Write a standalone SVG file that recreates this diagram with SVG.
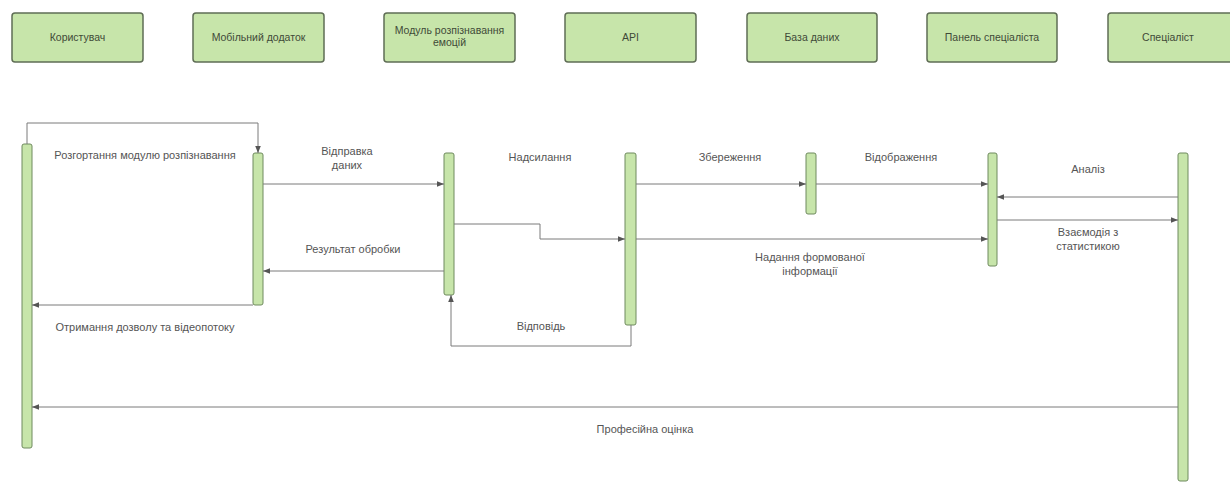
<svg xmlns="http://www.w3.org/2000/svg" width="1230" height="491" viewBox="0 0 1230 491">
<style>
.box{fill:#c7e5aa;stroke:#5f6d55;stroke-width:1.5}
.bar{fill:#c7e5aa;stroke:#6f8a5e;stroke-width:1}
.bt{font-family:"Liberation Sans",Arial,sans-serif;font-size:10.5px;fill:#3f4a38;text-anchor:middle}
.lt{font-family:"Liberation Sans",Arial,sans-serif;font-size:11px;fill:#555;text-anchor:middle}
.ln{fill:none;stroke:#7a7a7a;stroke-width:1}
</style>
<defs>
<marker id="ah" viewBox="0 0 10 10" refX="10" refY="5" markerWidth="7" markerHeight="7" orient="auto" markerUnits="userSpaceOnUse">
<path d="M0,1 L10,5 L0,9 Z" fill="#555"/>
</marker>
</defs>
<rect width="1230" height="491" fill="#ffffff"/>
<g id="user"><rect class="box" x="12" y="13" width="131" height="49" rx="3"/><text class="bt" x="77.5" y="41">Користувач</text></g>
<g id="mobile"><rect class="box" x="193" y="13" width="131" height="49" rx="3"/><text class="bt" x="258.5" y="41">Мобільний додаток</text></g>
<g id="module"><rect class="box" x="384" y="13" width="131" height="49" rx="3"/><text class="bt" x="449.5" y="34">Модуль розпізнавання</text><text class="bt" x="449.5" y="46">емоцій</text></g>
<g id="api"><rect class="box" x="565" y="13" width="131" height="49" rx="3"/><text class="bt" x="630.5" y="41">API</text></g>
<g id="db"><rect class="box" x="747" y="13" width="130" height="49" rx="3"/><text class="bt" x="812" y="41">База даних</text></g>
<g id="panel"><rect class="box" x="927" y="13" width="130" height="49" rx="3"/><text class="bt" x="992" y="41">Панель спеціаліста</text></g>
<g id="specialist"><rect class="box" x="1108" y="13" width="130" height="49" rx="3"/><text class="bt" x="1168" y="41">Спеціаліст</text></g>

<g id="bar-user"><rect class="bar" x="22" y="144" width="10" height="304" rx="2"/></g>
<g id="bar-mobile"><rect class="bar" x="253" y="153" width="10" height="152" rx="2"/></g>
<g id="bar-module"><rect class="bar" x="444" y="153" width="10" height="142" rx="2"/></g>
<g id="bar-api"><rect class="bar" x="625" y="153" width="11" height="172" rx="2"/></g>
<g id="bar-db"><rect class="bar" x="806" y="153" width="10" height="61" rx="2"/></g>
<g id="bar-panel"><rect class="bar" x="988" y="153" width="9" height="113" rx="2"/></g>
<g id="bar-specialist"><rect class="bar" x="1178" y="153" width="10" height="328" rx="2"/></g>

<g id="connectors">
<path class="ln" d="M27,144 V123 H258 V153" marker-end="url(#ah)"/>
<path class="ln" d="M263,184 H444" marker-end="url(#ah)"/>
<path class="ln" d="M444,271 H263" marker-end="url(#ah)"/>
<path class="ln" d="M253,305 H32" marker-end="url(#ah)"/>
<path class="ln" d="M454,224 H540 V239 H625" marker-end="url(#ah)"/>
<path class="ln" d="M631,325 V346 H451 V295" marker-end="url(#ah)"/>
<path class="ln" d="M636,184 H806" marker-end="url(#ah)"/>
<path class="ln" d="M816,184 H988" marker-end="url(#ah)"/>
<path class="ln" d="M636,239 H988" marker-end="url(#ah)"/>
<path class="ln" d="M1178,197 H997" marker-end="url(#ah)"/>
<path class="ln" d="M997,220 H1178" marker-end="url(#ah)"/>
<path class="ln" d="M1178,407 H32" marker-end="url(#ah)"/>
</g>

<g id="labels">
<text class="lt" x="145" y="159">Розгортання модулю розпізнавання</text>
<text class="lt" x="347" y="155">Відправка</text>
<text class="lt" x="347" y="169">даних</text>
<text class="lt" x="353" y="253">Результат обробки</text>
<text class="lt" x="145" y="331">Отримання дозволу та відеопотоку</text>
<text class="lt" x="540" y="161">Надсилання</text>
<text class="lt" x="541" y="330">Відповідь</text>
<text class="lt" x="730" y="161">Збереження</text>
<text class="lt" x="901" y="161">Відображення</text>
<text class="lt" x="810" y="261">Надання формованої</text>
<text class="lt" x="810" y="275">інформації</text>
<text class="lt" x="1088" y="173">Аналіз</text>
<text class="lt" x="1088" y="236">Взаємодія з</text>
<text class="lt" x="1088" y="250">статистикою</text>
<text class="lt" x="645" y="433">Професійна оцінка</text>
</g>
</svg>
